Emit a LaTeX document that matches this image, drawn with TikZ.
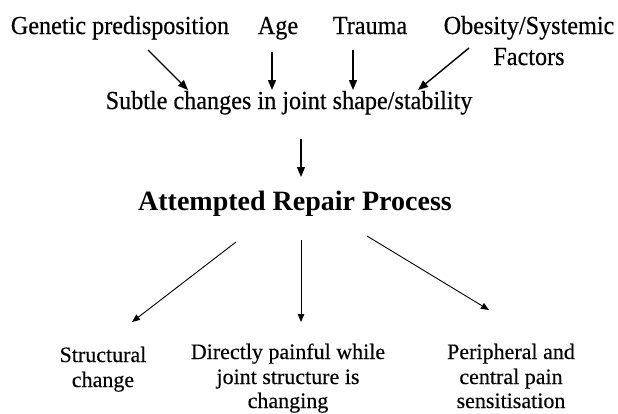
\documentclass[tikz,border=0pt]{standalone}
\usepackage{fontspec}
\setmainfont{Liberation Serif}
\newfontfamily\scanfont[FakeStretch=0.93,FakeBold=0.4]{Liberation Serif}
\newfontfamily\scanlow[FakeBold=0.3]{Liberation Serif}
\usetikzlibrary{arrows.meta}
\begin{document}
\begin{tikzpicture}[x=1pt,y=-1pt,
  toptext/.style={inner sep=0pt,anchor=base,font=\scanfont\fontsize{26}{30}\selectfont},
  boldtext/.style={inner sep=0pt,anchor=base,font=\fontsize{28}{33}\bfseries},
  lowtext/.style={inner sep=0pt,anchor=base,font=\scanlow\fontsize{22}{25}\selectfont},
  bigarr/.style={line width=1.4pt,-{Triangle[length=10pt,width=8pt]}},
  smallarr/.style={line width=0.9pt,-{Triangle[length=8pt,width=6.5pt]}}]
\useasboundingbox (0,0) rectangle (618,413);
% top row
\node[toptext] (gen) at (120,34) {Genetic predisposition};
\node[toptext] (age) at (278,34) {Age};
\node[toptext] (trauma) at (370,34) {Trauma};
\node[toptext] (obes) at (529,34) {Obesity/Systemic};
\node[toptext] (fact) at (529,65) {Factors};
\node[toptext] (subtle) at (289,109) {Subtle changes in joint shape/stability};
\node[boldtext] (repair) at (295,210) {Attempted Repair Process};
% bottom row
\node[lowtext] (struct1) at (103,362) {Structural};
\node[lowtext] (struct2) at (103,387) {change};
\node[lowtext] (direct1) at (288,359) {Directly painful while};
\node[lowtext] (direct2) at (288,384) {joint structure is};
\node[lowtext] (direct3) at (288,408) {changing};
\node[lowtext] (peri1) at (511,359) {Peripheral and};
\node[lowtext] (peri2) at (511,384) {central pain};
\node[lowtext] (peri3) at (511,408) {sensitisation};
% top arrows
\draw[bigarr] ([shift={(28,16)}]gen.base) -- ([shift={(-101,-19)}]subtle.base);
\draw[bigarr] ([shift={(-6,18)}]age.base) -- ([shift={(-17,-19)}]subtle.base);
\draw[bigarr] ([shift={(-17,16)}]trauma.base) -- ([shift={(64,-19)}]subtle.base);
\draw[bigarr] ([shift={(-60,14)}]obes.base) -- ([shift={(129,-19)}]subtle.base);
% middle arrow
\draw[bigarr,line width=1.1pt] ([shift={(12,30)}]subtle.base) -- ([shift={(6,-33)}]repair.base);
% lower arrows
\draw[smallarr] ([shift={(-59,32)}]repair.base) -- ([shift={(29,-40)}]struct1.base);
\draw[smallarr] ([shift={(6,30)}]repair.base) -- ([shift={(13,-37)}]direct1.base);
\draw[smallarr] ([shift={(72,26)}]repair.base) -- ([shift={(-22,-49)}]peri1.base);
\end{tikzpicture}
\end{document}
